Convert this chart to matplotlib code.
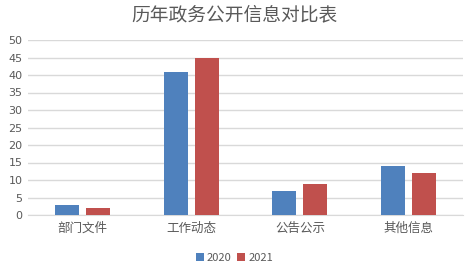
import numpy as np
import matplotlib.pyplot as plt

plt.rcParams['font.family'] = ['Noto Sans CJK SC', 'DejaVu Sans']

# --- Data ---
categories = ['部门文件', '工作动态', '公告公示', '其他信息']
series_names = ['2020', '2021']
values_2020 = [3, 41, 7, 14]
values_2021 = [2, 45, 9, 12]
yticks = [0, 5, 10, 15, 20, 25, 30, 35, 40, 45, 50]

BLUE = '#4F81BD'
RED = '#C0504D'
TEXT = '#595959'
GRID = '#D9D9D9'

fig = plt.figure(figsize=(4.69, 2.68), dpi=100)
ax = fig.add_axes([28 / 469, 1 - 215 / 268, 435 / 469, 175 / 268])

x = np.arange(len(categories))
w = 0.22
off = 0.143
ax.bar(x - off, values_2020, w, color=BLUE, label=series_names[0], zorder=3)
ax.bar(x + off, values_2021, w, color=RED, label=series_names[1], zorder=3)

ax.set_xlim(-0.5, len(categories) - 0.5)
ax.set_ylim(0, 50)
ax.set_yticks(yticks)
ax.set_xticks(x)
ax.set_xticklabels(categories)
ax.tick_params(axis='both', length=0, colors=TEXT, labelsize=8)
ax.tick_params(axis='x', pad=5, labelsize=9)
ax.tick_params(axis='y', pad=4)
for lbl in ax.get_yticklabels():
    lbl.set_fontfamily(['DejaVu Sans'])
ax.yaxis.grid(True, color=GRID, linewidth=1, zorder=0)
for s in ['top', 'right', 'left']:
    ax.spines[s].set_visible(False)
ax.spines['bottom'].set_color(GRID)

fig.text(0.5, 1 - 15 / 268, '历年政务公开信息对比表', ha='center', va='center',
         fontsize=13.5, color=TEXT)

fig.legend(loc='center', bbox_to_anchor=(0.5, 1 - 258 / 268), ncol=2, frameon=False,
           fontsize=8, handlelength=0.7, handleheight=0.7, handletextpad=0.3,
           columnspacing=0.5, labelcolor=TEXT)

fig.savefig('out.png', dpi=100)
